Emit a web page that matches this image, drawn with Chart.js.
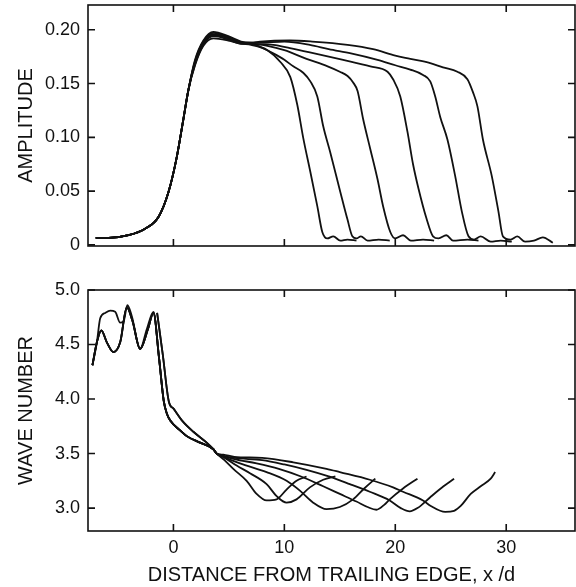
<!DOCTYPE html>
<html>
<head>
<meta charset="utf-8">
<script src="https://cdn.jsdelivr.net/npm/chart.js@4.4.1/dist/chart.umd.min.js"></script>
<style>
  body { margin: 0; background: #fff; }
  #wrap { position: relative; width: 576px; height: 587px; }
  .panel { position: absolute; left: 0; width: 576px; }
</style>
</head>
<body>
<div id="wrap">
  <div class="panel" style="top:0;height:262px"><canvas id="amp"></canvas></div>
  <div class="panel" style="top:270px;height:317px"><canvas id="wave"></canvas></div>
</div>
<script>
// axis ticks
const xTicks = [0, 10, 20, 30];
const ampTicks = [0, 0.05, 0.10, 0.15, 0.20];
const ampTickLabels = ["0", "0.05", "0.10", "0.15", "0.20"];
const waveTicks = [3.0, 3.5, 4.0, 4.5, 5.0];
const waveTickLabels = ["3.0", "3.5", "4.0", "4.5", "5.0"];

// amplitude: common rise, then one tail per run
const riseX = [-7.0, -5.85, -4.05, -2.55, -1.35, -0.45, 0.27, 0.9, 1.35];
const riseY = [0.0065, 0.0065, 0.009, 0.015, 0.026, 0.049, 0.080, 0.117, 0.144];

const ampA_x = [1.95, 2.7, 3.6, 4.95, 6.1, 7.0, 8.47, 9.64, 10.54, 11.17, 11.71, 12.34, 12.97, 13.42, 13.87, 14.41, 15.05, 15.68, 16.5];
const ampA_y = [0.167, 0.185, 0.192, 0.190, 0.187, 0.186, 0.181, 0.170, 0.156, 0.130, 0.099, 0.068, 0.036, 0.012, 0.006, 0.008, 0.004, 0.005, 0.004];

const ampB_x = [1.95, 2.7, 3.6, 4.95, 6.1, 7.0, 7.84, 9.0, 10.0, 10.8, 11.7, 12.34, 12.97, 13.51, 14.14, 15.05, 15.68, 16.13, 16.5, 16.9, 17.5, 18.5, 19.5];
const ampB_y = [0.168, 0.186, 0.194, 0.191, 0.187, 0.187, 0.184, 0.178, 0.172, 0.166, 0.160, 0.152, 0.138, 0.110, 0.086, 0.049, 0.024, 0.008, 0.006, 0.008, 0.004, 0.005, 0.004];

const ampC_x = [1.95, 2.7, 3.6, 4.95, 6.1, 7.0, 8.47, 10.0, 12.0, 13.9, 15.0, 15.7, 16.2, 16.6, 17.1, 17.75, 18.4, 18.9, 19.55, 20.0, 20.7, 21.4, 22.5, 23.5];
const ampC_y = [0.169, 0.187, 0.195, 0.192, 0.188, 0.187, 0.185, 0.181, 0.173, 0.166, 0.161, 0.157, 0.151, 0.143, 0.117, 0.089, 0.061, 0.036, 0.012, 0.006, 0.009, 0.004, 0.005, 0.004];

const ampD_x = [1.95, 2.7, 3.6, 4.95, 6.1, 7.0, 9.0, 10.5, 12.3, 15.3, 17.75, 19.3, 19.8, 20.45, 21.1, 21.6, 22.1, 22.8, 23.4, 23.9, 24.6, 25.2, 26.5, 27.5];
const ampD_y = [0.170, 0.188, 0.196, 0.193, 0.188, 0.187, 0.186, 0.183, 0.179, 0.172, 0.166, 0.161, 0.154, 0.138, 0.105, 0.075, 0.052, 0.025, 0.008, 0.006, 0.009, 0.004, 0.005, 0.004];

const ampE_x = [1.95, 2.7, 3.6, 4.95, 6.1, 7.0, 7.8, 10.0, 12.3, 14.0, 16.0, 18.4, 20.0, 21.35, 22.5, 23.15, 23.6, 24.05, 24.7, 25.4, 26.0, 26.6, 27.1, 27.7, 28.6, 29.5, 30.5];
const ampE_y = [0.171, 0.189, 0.197, 0.193, 0.188, 0.188, 0.188, 0.189, 0.186, 0.182, 0.178, 0.172, 0.167, 0.163, 0.158, 0.152, 0.138, 0.119, 0.098, 0.064, 0.031, 0.008, 0.005, 0.008, 0.003, 0.004, 0.003];

const ampF_x = [1.95, 2.7, 3.6, 4.95, 6.1, 7.0, 7.8, 10.5, 12.5, 15.7, 18.0, 20.0, 21.35, 23.15, 24.3, 25.6, 26.5, 27.0, 27.4, 27.9, 28.7, 29.3, 29.7, 30.4, 31.0, 31.7, 32.5, 33.3, 34.2];
const ampF_y = [0.172, 0.190, 0.198, 0.194, 0.189, 0.188, 0.189, 0.190, 0.189, 0.186, 0.182, 0.176, 0.173, 0.169, 0.165, 0.161, 0.154, 0.142, 0.129, 0.098, 0.064, 0.031, 0.008, 0.005, 0.008, 0.003, 0.004, 0.007, 0.002];

// wave number: three kinds of start, then one tail per run
const wnLowX = [-7.3, -6.9, -6.5, -6.0, -5.4, -4.8, -4.2, -3.7, -3.0, -2.3, -1.8, -1.3, -0.87, -0.57, -0.27, 0.63, 1.2, 2.4, 3.6];
const wnLowY = [4.31, 4.52, 4.63, 4.52, 4.43, 4.52, 4.84, 4.72, 4.46, 4.64, 4.79, 4.38, 3.98, 3.86, 3.80, 3.71, 3.66, 3.60, 3.54];

const wnHighX = [-7.3, -6.9, -6.6, -6.15, -5.7, -5.25, -4.8, -4.5, -4.15, -3.75, -3.0, -2.4, -1.8, -1.3, -0.87, -0.57, -0.27, 0.63, 1.2, 2.4, 3.6];
const wnHighY = [4.31, 4.52, 4.74, 4.79, 4.81, 4.80, 4.70, 4.71, 4.86, 4.76, 4.46, 4.64, 4.80, 4.38, 3.98, 3.86, 3.80, 3.71, 3.66, 3.60, 3.54];

const wnLateX = [-1.47, -0.95, -0.42, 0.03, 0.8, 1.8, 3.0, 3.6];
const wnLateY = [4.79, 4.40, 3.98, 3.91, 3.80, 3.70, 3.60, 3.54];

const wnA_x = [3.9, 4.6, 5.4, 6.6, 7.5, 8.4, 9.3, 10.2, 11.1, 12.0];
const wnA_y = [3.50, 3.44, 3.36, 3.25, 3.13, 3.07, 3.08, 3.17, 3.25, 3.29];
const wnB_x = [3.9, 4.5, 5.7, 6.9, 8.4, 9.3, 10.2, 11.1, 12.3, 13.5, 14.6];
const wnB_y = [3.50, 3.47, 3.39, 3.32, 3.22, 3.11, 3.05, 3.08, 3.19, 3.26, 3.29];
const wnC_x = [3.9, 4.5, 6.0, 8.4, 10.2, 11.4, 12.6, 13.8, 15.0, 16.2, 17.2, 18.2];
const wnC_y = [3.50, 3.47, 3.41, 3.33, 3.25, 3.16, 3.05, 2.99, 3.01, 3.08, 3.18, 3.27];
const wnD_x = [3.9, 4.5, 5.5, 7.5, 9.5, 11.5, 13.5, 15.0, 16.5, 17.5, 18.3, 19.0, 19.5, 20.7, 22.0];
const wnD_y = [3.50, 3.48, 3.45, 3.41, 3.36, 3.29, 3.20, 3.13, 3.06, 3.01, 2.985, 3.03, 3.08, 3.18, 3.27];
const wnE_x = [3.9, 4.5, 5.5, 8.0, 10.0, 12.0, 14.0, 15.9, 17.7, 19.5, 20.5, 21.3, 22.0, 23.15, 24.35, 25.3];
const wnE_y = [3.50, 3.48, 3.46, 3.44, 3.40, 3.35, 3.29, 3.22, 3.15, 3.07, 3.00, 2.97, 3.00, 3.10, 3.20, 3.27];
const wnF_x = [3.9, 4.5, 5.5, 8.0, 10.8, 13.8, 15.0, 17.7, 19.8, 20.7, 22.5, 23.2, 24.5, 25.3, 25.9, 26.8, 27.7, 28.6, 29.0];
const wnF_y = [3.50, 3.49, 3.47, 3.46, 3.42, 3.36, 3.33, 3.26, 3.19, 3.15, 3.07, 3.02, 2.965, 2.975, 3.02, 3.13, 3.20, 3.27, 3.33];

function pts(xs, ys) {
  return xs.map((x, i) => ({ x: x, y: ys[i] }));
}

function curve(points) {
  return {
    data: points,
    borderColor: "#111",
    borderWidth: 1.8,
    pointRadius: 0,
    fill: false,
    cubicInterpolationMode: "monotone",
  };
}

Chart.defaults.font.family = '"Liberation Sans", Arial, sans-serif';
Chart.defaults.color = "#111";

// box round the plot and tick marks pointing inward
function framePlugin(yTicks) {
  return {
    id: "frame",
    afterDraw(chart) {
      const { ctx, chartArea: a } = chart;
      const sx = chart.scales.x, sy = chart.scales.y;
      const len = 7;
      ctx.save();
      ctx.strokeStyle = "#111";
      ctx.lineWidth = 1.6;
      ctx.strokeRect(a.left, a.top, a.right - a.left, a.bottom - a.top);
      ctx.beginPath();
      xTicks.forEach(v => {
        const px = sx.getPixelForValue(v);
        ctx.moveTo(px, a.top); ctx.lineTo(px, a.top + len);
        ctx.moveTo(px, a.bottom); ctx.lineTo(px, a.bottom - len);
      });
      yTicks.forEach(v => {
        const py = sy.getPixelForValue(v);
        ctx.moveTo(a.left, py); ctx.lineTo(a.left + len, py);
        ctx.moveTo(a.right, py); ctx.lineTo(a.right - len, py);
      });
      ctx.stroke();
      ctx.restore();
    },
  };
}

function noPad(s) {
  s.paddingTop = 0; s.paddingBottom = 0; s.paddingLeft = 0; s.paddingRight = 0;
}

const xMin = -7.7, xMax = 36.2;
const noGrid = { display: false, drawTicks: false };

new Chart(document.getElementById("amp"), {
  type: "line",
  data: {
    datasets: [
      curve(pts(riseX.concat(ampA_x), riseY.concat(ampA_y))),
      curve(pts(riseX.concat(ampB_x), riseY.concat(ampB_y))),
      curve(pts(riseX.concat(ampC_x), riseY.concat(ampC_y))),
      curve(pts(riseX.concat(ampD_x), riseY.concat(ampD_y))),
      curve(pts(riseX.concat(ampE_x), riseY.concat(ampE_y))),
      curve(pts(riseX.concat(ampF_x), riseY.concat(ampF_y))),
    ],
  },
  options: {
    responsive: true,
    maintainAspectRatio: false,
    animation: false,
    layout: { padding: { top: 5, right: 1, bottom: 16, left: 0 } },
    plugins: { legend: { display: false }, tooltip: { enabled: false } },
    scales: {
      x: {
        type: "linear",
        min: xMin,
        max: xMax,
        grid: noGrid,
        border: { display: false },
        ticks: { display: false },
        afterFit: s => { s.height = 0; noPad(s); },
      },
      y: {
        min: -0.001,
        max: 0.223,
        grid: noGrid,
        border: { display: false },
        afterBuildTicks: s => { s.ticks = ampTicks.map(v => ({ value: v })); },
        afterFit: s => { s.width = 88; noPad(s); },
        ticks: {
          padding: 8,
          font: { size: 18 },
          callback: (v, i) => ampTickLabels[i],
        },
        title: {
          display: true,
          text: "AMPLITUDE",
          font: { size: 20 },
          padding: { top: 14, bottom: 0 },
        },
      },
    },
  },
  plugins: [framePlugin(ampTicks)],
});

new Chart(document.getElementById("wave"), {
  type: "line",
  data: {
    datasets: [
      curve(pts(wnLowX.concat(wnA_x), wnLowY.concat(wnA_y))),
      curve(pts(wnLowX.concat(wnB_x), wnLowY.concat(wnB_y))),
      curve(pts(wnLowX.concat(wnC_x), wnLowY.concat(wnC_y))),
      curve(pts(wnHighX.concat(wnD_x), wnHighY.concat(wnD_y))),
      curve(pts(wnLateX.concat(wnE_x), wnLateY.concat(wnE_y))),
      curve(pts(wnLateX.concat(wnF_x), wnLateY.concat(wnF_y))),
    ],
  },
  options: {
    responsive: true,
    maintainAspectRatio: false,
    animation: false,
    layout: { padding: { top: 20, right: 1, bottom: 0, left: 0 } },
    plugins: { legend: { display: false }, tooltip: { enabled: false } },
    scales: {
      x: {
        type: "linear",
        min: xMin,
        max: xMax,
        grid: noGrid,
        border: { display: false },
        afterBuildTicks: s => { s.ticks = xTicks.map(v => ({ value: v })); },
        afterFit: s => { s.height = 56; noPad(s); },
        ticks: { padding: 6, font: { size: 18 }, maxRotation: 0 },
        title: {
          display: true,
          text: "DISTANCE FROM TRAILING EDGE, x /d",
          font: { size: 20 },
          padding: { top: 0, bottom: 0 },
        },
      },
      y: {
        min: 2.79,
        max: 5.0,
        grid: noGrid,
        border: { display: false },
        afterBuildTicks: s => { s.ticks = waveTicks.map(v => ({ value: v })); },
        afterFit: s => { s.width = 88; noPad(s); },
        ticks: {
          padding: 8,
          font: { size: 18 },
          callback: (v, i) => waveTickLabels[i],
        },
        title: {
          display: true,
          text: "WAVE NUMBER",
          font: { size: 20 },
          padding: { top: 14, bottom: 0 },
        },
      },
    },
  },
  plugins: [framePlugin(waveTicks)],
});
</script>
</body>
</html>
